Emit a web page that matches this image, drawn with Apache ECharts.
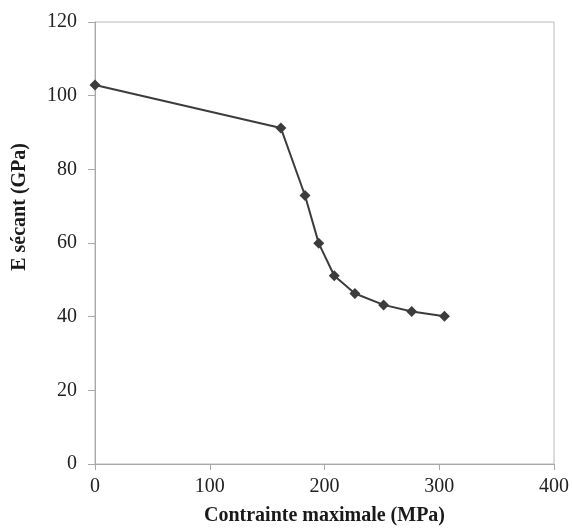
<!DOCTYPE html>
<html><head><meta charset="utf-8">
<script src="https://cdn.jsdelivr.net/npm/echarts@6/dist/echarts.min.js"></script>
<style>html,body{margin:0;padding:0;background:#fff}#c{width:572px;height:531px}</style>
</head><body><div id="c"></div>
<script>
const stress = [0, 162, 183, 195, 208.5, 226.5, 251.5, 276, 304.5];
const modulus = [102.9, 91.2, 72.9, 59.9, 51.1, 46.3, 43.2, 41.4, 40.1];
const xTicks = [0, 100, 200, 300, 400];
const yTicks = [0, 20, 40, 60, 80, 100, 120];
const xTitle = 'Contrainte maximale (MPa)';
const yTitle = 'E sécant (GPa)';

const chart = echarts.init(document.getElementById('c'));
const font = 'Liberation Serif, Times New Roman, serif';
chart.setOption({
  animation: false,
  grid: {left: 95, right: 16, top: 22, bottom: 63, show: true, borderColor: '#b8b8b8', borderWidth: 1},
  graphic: [{
    type: 'text', left: 10, top: 143, rotation: Math.PI / 2,
    style: {text: yTitle, font: 'bold 20px ' + font, fill: '#1a1a1a'}
  }],
  xAxis: {
    type: 'value', min: xTicks[0], max: xTicks[xTicks.length - 1], interval: xTicks[1] - xTicks[0],
    name: xTitle, nameLocation: 'middle', nameGap: 42,
    nameTextStyle: {fontFamily: font, fontSize: 20, fontWeight: 'bold', color: '#1a1a1a'},
    axisLine: {lineStyle: {color: '#a8a8a8'}},
    axisTick: {show: true, inside: false, length: 6, lineStyle: {color: '#a8a8a8'}},
    axisLabel: {fontFamily: font, fontSize: 20, color: '#222', margin: 13},
    splitLine: {show: false}
  },
  yAxis: {
    type: 'value', min: yTicks[0], max: yTicks[yTicks.length - 1], interval: yTicks[1] - yTicks[0],
    axisLine: {show: true, lineStyle: {color: '#a8a8a8'}},
    axisTick: {show: true, inside: false, length: 7, lineStyle: {color: '#a8a8a8'}},
    axisLabel: {fontFamily: font, fontSize: 20, color: '#222', margin: 18},
    splitLine: {show: false}
  },
  series: [{
    type: 'line',
    data: stress.map((x, i) => [x, modulus[i]]),
    symbol: 'diamond', symbolSize: 11,
    lineStyle: {color: '#3c3c3c', width: 2},
    itemStyle: {color: '#3c3c3c'}
  }]
});
</script></body></html>
